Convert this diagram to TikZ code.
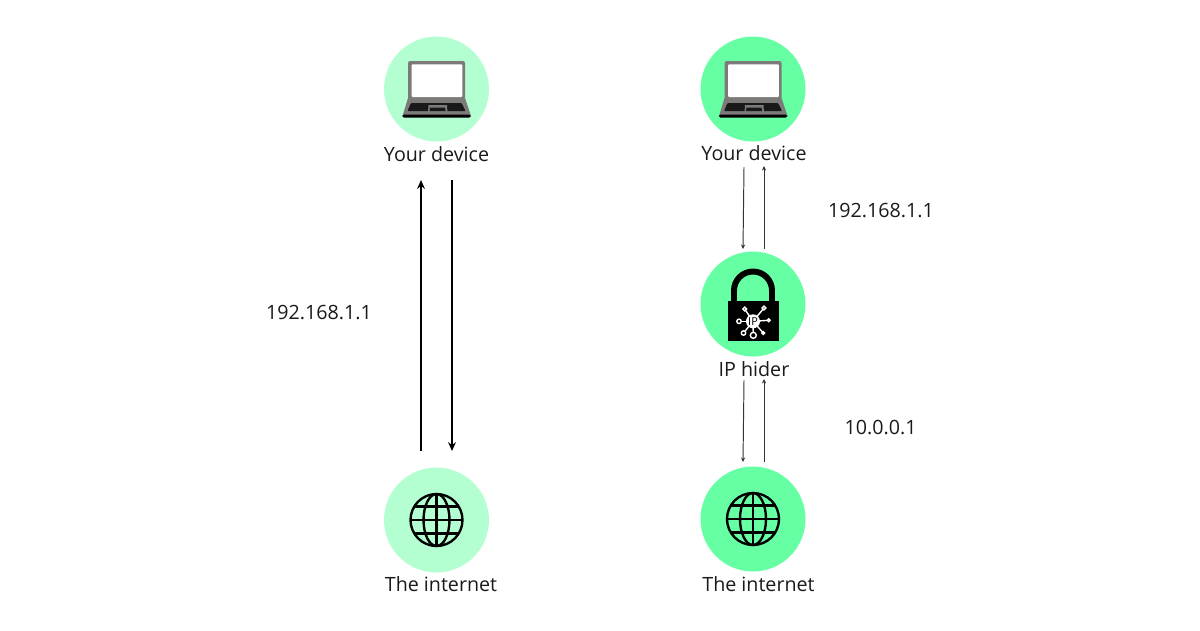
\documentclass[tikz,border=0pt]{standalone}
\usepackage{fontspec}
\setmainfont{Open Sans}
\usepackage{xcolor}
\usetikzlibrary{arrows.meta,positioning,calc}
\definecolor{palegreen}{HTML}{B4FFD2}
\definecolor{brightgreen}{HTML}{66FFA3}
\definecolor{laptopgray}{HTML}{7D7A7A}
\definecolor{inktext}{HTML}{1A1A1A}
\newlength{\pxu}
\setlength{\pxu}{0.02cm}
\tikzset{
  disc/.style={circle,minimum size=105\pxu,inner sep=0pt,fill=#1},
  caption/.style={font=\fontsize{11.2pt}{13pt}\selectfont,text=inktext,inner sep=0pt},
  thickflow/.style={-{Stealth[length=5pt,width=4.4pt]},line width=1pt,black},
  thinflow/.style={-{Stealth[length=2.6pt,width=2.4pt]},line width=0.55pt,black!80},
  laptopicon/.pic={
    \fill[laptopgray,rounded corners=1.2pt] (-28.5,-28) rectangle (28.5,11);
    \fill[white,rounded corners=0.5pt] (-24.8,-24.7) rectangle (25.8,8);
    \fill[laptopgray] (-28.5,9) -- (28.5,9) -- (34.5,27) -- (-34,27) -- cycle;
    \fill[black!90,rounded corners=0.5pt] (-25.5,14) -- (25,14) -- (29,22) -- (-29,22) -- cycle;
    \fill[laptopgray] (-8,16) -- (10.5,16) -- (11,24) -- (-8.5,24) -- cycle;
    \fill[black!90] (-6.5,18.5) -- (8.5,18.5) -- (9,22) -- (-7,22) -- cycle;
    \fill[black,rounded corners=1pt] (-34.5,25.5) rectangle (34.5,28.5);
  },
  globeicon/.pic={
    \begin{scope}[line width=1.35pt,black]
      \draw (0,0) circle (26);
      \draw (0,0) ellipse (13 and 26);
      \draw (0,-26) -- (0,26);
      \draw (-26,0) -- (26,0);
      \draw (-22,-13.5) -- (22,-13.5);
      \draw (-22,13.5) -- (22,13.5);
    \end{scope}
  },
  lockicon/.pic={
    % shackle, then the body on top of it
    \draw[line width=3.4pt,black] (-19,2) -- (-19,-13.5) arc (180:360:19) -- (19,2);
    \fill[black] (-25.5,-3) rectangle (25.5,36.7);
    \begin{scope}[shift={(0,17.3)},white,line width=0.8pt]
      \foreach \dx/\dy/\dr in {11/-13.3/1.9,-8.3/-12.3/1.9,-14/0/2.2,15.7/-1/1.4,-9.5/11.7/2.2,10.3/11.7/1.4,0.3/14/3}{
        \draw (0,0) -- (\dx,\dy);
        \draw[fill=black] (\dx,\dy) circle (\dr);
      }
      \fill (0,0) circle (7);
      \node[text=black,inner sep=0pt,font=\fontsize{6.2pt}{7pt}\selectfont] at (0,0) {IP};
    \end{scope}
  },
}
\begin{document}
\begin{tikzpicture}[x=0.02cm,y=-0.02cm]
  \useasboundingbox (0,0) rectangle (1200,630);
  % left column
  \node[disc=palegreen] (deviceA) at (436.5,89) {};
  \node[disc=palegreen] (netA) at (436.5,520) {};
  \pic at (deviceA) {laptopicon};
  \pic at (netA) {globeicon};
  \node[caption] (deviceAtext) at (436.5,154) {Your device};
  \node[caption] (netAtext) at (441,584) {The internet};
  \node[caption] (ipA) at (319,313) {192.168.1.1};
  \coordinate (upAfrom) at (421,451);
  \coordinate (upAto) at (421,180);
  \coordinate (downAfrom) at (452,180);
  \coordinate (downAto) at (452,451);
  \draw[thickflow] (upAfrom) -- (upAto);
  \draw[thickflow] (downAfrom) -- (downAto);
  % right column
  \node[disc=brightgreen] (deviceB) at (753,89) {};
  \node[disc=brightgreen] (hider) at (753,304) {};
  \node[disc=brightgreen] (netB) at (753,519) {};
  \pic at (deviceB) {laptopicon};
  \pic at (hider) {lockicon};
  \pic at (netB) {globeicon};
  \node[caption] (deviceBtext) at (754,153) {Your device};
  \node[caption] (hidertext) at (754,369) {IP hider};
  \node[caption] (netBtext) at (758.5,584) {The internet};
  \node[caption] (ipB) at (881,211) {192.168.1.1};
  \node[caption] (ipC) at (880.5,427) {10.0.0.1};
  \coordinate (downBfrom) at (744,167);
  \coordinate (downBto) at (743,249);
  \coordinate (upBfrom) at (764,249);
  \coordinate (upBto) at (764,166);
  \coordinate (downCfrom) at (744,380);
  \coordinate (downCto) at (743,462);
  \coordinate (upCfrom) at (764,462);
  \coordinate (upCto) at (764,379);
  \draw[thinflow] (downBfrom) -- (downBto);
  \draw[thinflow] (upBfrom) -- (upBto);
  \draw[thinflow] (downCfrom) -- (downCto);
  \draw[thinflow] (upCfrom) -- (upCto);
\end{tikzpicture}
\end{document}
